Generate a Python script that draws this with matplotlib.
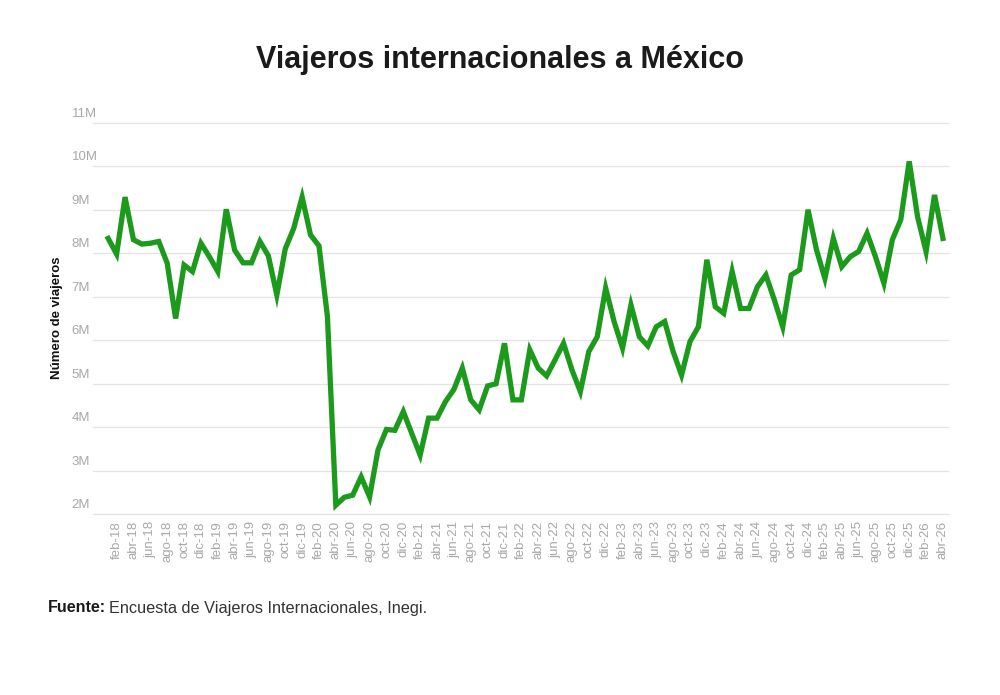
import matplotlib
matplotlib.use("Agg")
import matplotlib.pyplot as plt
import matplotlib.transforms as mtransforms

plt.rcParams['font.family'] = ['Liberation Sans', 'DejaVu Sans']

# monthly travellers (millions), ene-18 .. abr-26
meses = ['ene', 'feb', 'mar', 'abr', 'may', 'jun', 'jul', 'ago', 'sep', 'oct', 'nov', 'dic']
anios = ['18', '19', '20', '21', '22', '23', '24', '25', '26']
viajeros = [
    8.34, 7.98, 9.29, 8.31, 8.21, 8.23, 8.27, 7.77, 6.50, 7.73, 7.58, 8.23,   # 2018
    7.92, 7.58, 9.01, 8.07, 7.78, 7.78, 8.27, 7.94, 7.04, 8.10, 8.57, 9.29,   # 2019
    8.42, 8.17, 6.55, 2.21, 2.39, 2.44, 2.86, 2.40, 3.48, 3.95, 3.93, 4.36,   # 2020
    3.86, 3.36, 4.21, 4.21, 4.59, 4.87, 5.36, 4.63, 4.40, 4.95, 5.00, 5.93,   # 2021
    4.63, 4.63, 5.78, 5.36, 5.18, 5.55, 5.93, 5.32, 4.82, 5.74, 6.08, 7.20,   # 2022
    6.43, 5.82, 6.81, 6.08, 5.87, 6.31, 6.43, 5.74, 5.20, 5.97, 6.31, 7.85,   # 2023
    6.77, 6.62, 7.58, 6.73, 6.73, 7.23, 7.50, 6.93, 6.31, 7.50, 7.62, 9.00,   # 2024
    8.08, 7.42, 8.34, 7.69, 7.92, 8.04, 8.46, 7.92, 7.31, 8.31, 8.77, 10.11,  # 2025
    8.83, 8.04, 9.34, 8.34,                                                   # 2026
]
etiquetas = [f"{m}-{a}" for a in anios for m in meses][:len(viajeros)]
y_ticks = [2, 3, 4, 5, 6, 7, 8, 9, 10, 11]

verde = '#1c9a1c'
gris = '#a8a8a8'

fig = plt.figure(figsize=(10, 6.95), dpi=100)
ax = fig.add_axes([0.093, 1 - 514.3 / 695, 0.855, (514.3 - 122.7) / 695])

x = list(range(len(viajeros)))
ax.plot(x, viajeros, color=verde, lw=3.8, solid_joinstyle='miter', clip_on=False, zorder=3)

ax.set_xlim(-1.8, 99.6)
ax.set_ylim(2, 11)

# gridlines with labels sitting above-left
for v in y_ticks:
    ax.axhline(v, color='#e3e3e3', lw=0.9, zorder=1, clip_on=False)
trans = mtransforms.blended_transform_factory(ax.transAxes, ax.transData)
for v in y_ticks:
    ax.text(-0.025, v + 0.07, f"{v}M", transform=trans, ha='left', va='bottom',
            fontsize=9.5, color=gris)

ax.set_yticks([])
ax.set_xticks(x[1::2])
ax.set_xticklabels(etiquetas[1::2], rotation=90, fontsize=9.5, color=gris)
ax.tick_params(axis='x', length=0, pad=5)
for s in ax.spines.values():
    s.set_visible(False)

fig.text(0.057, 1 - 318 / 695, 'Número de viajeros', rotation=90, ha='center', va='center',
         fontsize=9.5, fontweight='bold', color='#111111')

fig.text(0.5, 1 - 60 / 695, 'Viajeros internacionales a México', ha='center', va='center',
         fontsize=22, fontweight='bold', color='#1a1a1a')

t = fig.text(0.048, 1 - 608 / 695, 'Fuente:', ha='left', va='center', fontsize=11.5,
             fontweight='bold', color='#1a1a1a')
fig.canvas.draw()
bb = t.get_window_extent()
fig.text((bb.x1 + 3) / 1000, 1 - 608 / 695, 'Encuesta de Viajeros Internacionales, Inegi.',
         ha='left', va='center', fontsize=11.7, color='#333333')

fig.savefig('out.png', dpi=100, facecolor='white')
